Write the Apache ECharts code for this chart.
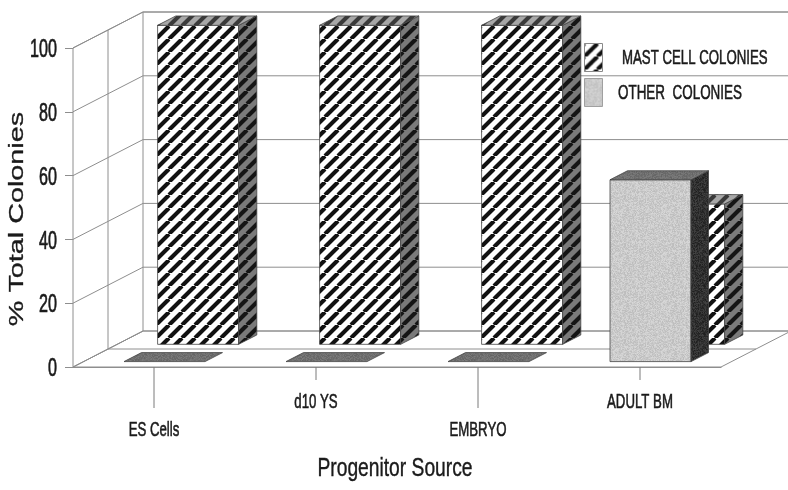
<!DOCTYPE html>
<html>
<head>
<meta charset="utf-8">
<script src="https://cdn.jsdelivr.net/npm/echarts@6/dist/echarts.min.js"></script>
<style>
  html, body { margin: 0; padding: 0; background: #ffffff; }
  #chart { width: 788px; height: 490px; }
</style>
</head>
<body>
<div id="chart"></div>
<script>
// ---- data ----
const categories = ['ES Cells', 'd10 YS', 'EMBRYO', 'ADULT BM'];
const mastCellColonies = [100, 100, 100, 44];
const otherColonies = [0, 0, 0, 57];
const seriesNames = ['MAST CELL COLONIES', 'OTHER  COLONIES'];
const yTicks = [0, 20, 40, 60, 80, 100];
const yAxisTitle = '% Total Colonies';
const xAxisTitle = 'Progenitor Source';

// ---- pseudo-3D projection and styling ----
const DEPTH_X = 70, DEPTH_Y = -36;      // shift from the front plane to the back wall
const BAR_RATIO = 0.5;                   // bar width as a share of the category band
const ROWS = { other: [0.15, 0.40], mast: [0.63, 0.89] };  // depth slots of the two series
const GRID = '#8e8e8e';
const FONT = "'Liberation Sans', Arial, sans-serif";
const INK = '#1a1a1a';

function hatchTile(bg, fg, period, lw) {
  const c = document.createElement('canvas');
  c.width = c.height = period;
  const g = c.getContext('2d');
  g.fillStyle = bg;
  g.fillRect(0, 0, period, period);
  g.strokeStyle = fg;
  g.lineWidth = lw;
  g.beginPath();
  for (let k = -1; k <= 1; k++) {
    g.moveTo(k * period, period);
    g.lineTo(k * period + period, 0);
  }
  g.stroke();
  return { image: c, repeat: 'repeat' };
}

function speckleTile(base, amp, size) {
  const c = document.createElement('canvas');
  c.width = c.height = size;
  const g = c.getContext('2d');
  const img = g.createImageData(size, size);
  let s = 12345;
  for (let p = 0; p < size * size; p++) {
    s = (s * 1103515245 + 12345) & 0x7fffffff;   // fixed-seed texture grain
    const v = Math.max(0, Math.min(255, base + ((s >> 8) % (2 * amp + 1)) - amp));
    img.data[p * 4] = img.data[p * 4 + 1] = img.data[p * 4 + 2] = v;
    img.data[p * 4 + 3] = 255;
  }
  g.putImageData(img, 0, 0);
  return { image: c, repeat: 'repeat' };
}

const FILLS = {
  mast: {
    front: hatchTile('#ffffff', '#111111', 13, 4.1),
    side: hatchTile('#7a7a7a', '#151515', 13, 4.1),
    top: hatchTile('#a8a8a8', '#3a3a3a', 13, 4.1),
    stroke: '#444'
  },
  other: {
    front: speckleTile(202, 14, 48),
    side: speckleTile(48, 18, 48),
    top: speckleTile(112, 12, 48),
    stroke: '#444'
  }
};

function seg(x1, y1, x2, y2, color, w) {
  return { type: 'line', shape: { x1, y1, x2, y2 }, style: { stroke: color || GRID, lineWidth: w || 1 } };
}

function textStyle(text, size, align, vAlign, weight) {
  return {
    text, fontSize: size, fontFamily: FONT, fill: INK,
    stroke: INK, lineWidth: weight || 0,
    align, textAlign: align, verticalAlign: vAlign, textVerticalAlign: vAlign
  };
}

function textEl(x, y, text, size, align, vAlign, scaleX, rotation, weight) {
  return {
    type: 'text', x, y, scaleX: scaleX || 1, rotation: rotation || 0,
    style: textStyle(text, size, align, vAlign, weight)
  };
}

// walls and floor of the box
function renderFrame(params, api) {
  const cs = params.coordSys;
  const L = cs.x, R = cs.x + cs.width, T = cs.y, B = cs.y + cs.height;
  const dx = DEPTH_X, dy = DEPTH_Y;
  return {
    type: 'group',
    children: [
      { type: 'polygon', shape: { points: [[L, B], [R, B], [R + dx, B + dy], [L + dx, B + dy]] },
        style: { fill: '#ffffff', stroke: GRID, lineWidth: 1 } },
      { type: 'polygon', shape: { points: [[L, B], [L, T], [L + dx, T + dy], [L + dx, B + dy]] },
        style: { fill: '#ffffff', stroke: GRID, lineWidth: 1 } },
      seg(L + dx, T + dy, R + dx, T + dy),
      seg(R + dx, T + dy, R + dx, B + dy),
      seg(L + dx / 2, T + dy / 2, L + dx / 2, B + dy / 2),
      seg(L + dx / 2, B + dy / 2, R + dx / 2, B + dy / 2)
    ]
  };
}

// one gridline per tick: across the left wall and along the back wall
function renderGridLine(params, api) {
  const cs = params.coordSys;
  const L = cs.x, R = cs.x + cs.width;
  const y = api.coord([0, api.value(1)])[1];
  return {
    type: 'group',
    children: [
      seg(L, y, L + DEPTH_X, y + DEPTH_Y),
      seg(L + DEPTH_X, y + DEPTH_Y, R + DEPTH_X, y + DEPTH_Y)
    ]
  };
}

function makeBarRenderer(rowKey) {
  const [d0, d1] = ROWS[rowKey];
  const fills = FILLS[rowKey];
  return function (params, api) {
    const i = api.value(0), v = api.value(1);
    const base = api.coord([i, 0]);
    const top = api.coord([i, v]);
    const w = api.size([1, 0])[0] * BAR_RATIO;
    const xl = base[0] - w / 2 + DEPTH_X * d0, xr = xl + w;
    const yb = base[1] + DEPTH_Y * d0, yt = top[1] + DEPTH_Y * d0;
    const sx = DEPTH_X * (d1 - d0), sy = DEPTH_Y * (d1 - d0);
    const children = [];
    if (yb - yt > 0.5) {
      children.push({ type: 'rect', shape: { x: xl, y: yt, width: w, height: yb - yt },
        style: { fill: fills.front, stroke: fills.stroke, lineWidth: 0.8 } });
      children.push({ type: 'polygon', shape: { points: [[xr, yt], [xr + sx, yt + sy], [xr + sx, yb + sy], [xr, yb]] },
        style: { fill: fills.side, stroke: fills.stroke, lineWidth: 0.8 } });
    }
    children.push({ type: 'polygon', shape: { points: [[xl, yt], [xr, yt], [xr + sx, yt + sy], [xl + sx, yt + sy]] },
      style: { fill: fills.top, stroke: fills.stroke, lineWidth: 0.8 } });
    return { type: 'group', children };
  };
}

// value labels on the front-left axis
function renderYLabel(params, api) {
  const cs = params.coordSys;
  const v = api.value(1);
  const y = api.coord([0, v])[1];
  return textEl(cs.x - 16, y + 2, String(v), 26, 'right', 'middle', 0.62, 0, 0.7);
}

// category ticks and staggered labels under the floor
function renderCategory(params, api) {
  const i = api.value(0);
  const p = api.coord([i, 0]);
  const long = i % 2 === 0;
  const tickEnd = long ? p[1] + 41 : p[1] + 13;
  const labelY = long ? p[1] + 63 : p[1] + 35;
  return {
    type: 'group',
    children: [
      seg(p[0], p[1], p[0], tickEnd, '#7a7a7a', 1),
      textEl(p[0], labelY, categories[i], 21, 'center', 'middle', 0.63, 0, 0.6)
    ]
  };
}

const chart = echarts.init(document.getElementById('chart'), null, { renderer: 'canvas' });

const legendSwatchW = 18;
chart.setOption({
  animation: false,
  backgroundColor: '#ffffff',
  grid: { left: 73, right: 67, top: 48, bottom: 123, containLabel: false },
  xAxis: {
    type: 'category',
    data: categories,
    axisLine: { show: true, lineStyle: { color: GRID, width: 1 } },
    axisTick: { show: false },
    axisLabel: { show: false },
    splitLine: { show: false }
  },
  yAxis: {
    type: 'value',
    min: 0, max: 100, interval: 20,
    axisLine: { show: true, lineStyle: { color: GRID, width: 1 } },
    axisTick: { show: true, length: 8, lineStyle: { color: GRID } },
    axisLabel: { show: false },
    splitLine: { show: false }
  },
  series: [
    { type: 'custom', name: 'frame', z: 1, clip: false, silent: true,
      data: [[0, 0]], renderItem: renderFrame },
    { type: 'custom', name: 'gridlines', z: 2, clip: false, silent: true,
      data: yTicks.map(v => [0, v]), renderItem: renderGridLine },
    { type: 'custom', name: seriesNames[0], z: 3, clip: false,
      data: categories.map((c, i) => [i, mastCellColonies[i]]), renderItem: makeBarRenderer('mast') },
    { type: 'custom', name: seriesNames[1], z: 4, clip: false,
      data: categories.map((c, i) => [i, otherColonies[i]]), renderItem: makeBarRenderer('other') },
    { type: 'custom', name: 'yLabels', z: 5, clip: false, silent: true,
      data: yTicks.map(v => [0, v]), renderItem: renderYLabel },
    { type: 'custom', name: 'categoryLabels', z: 5, clip: false, silent: true,
      data: categories.map((c, i) => [i, 0]), renderItem: renderCategory }
  ],
  graphic: [
    {
      type: 'rect', left: 584, top: 43, z: 10,
      shape: { width: legendSwatchW, height: 28 },
      style: { fill: hatchTile('#ffffff', '#111111', 13, 4.1), stroke: '#8a8a8a', lineWidth: 1 }
    },
    {
      type: 'text', x: 622, y: 58, z: 10, scaleX: 0.63,
      style: textStyle(seriesNames[0], 21, 'left', 'middle', 0.6)
    },
    {
      type: 'rect', left: 584, top: 78, z: 10,
      shape: { width: legendSwatchW, height: 28 },
      style: { fill: speckleTile(202, 14, 48), stroke: '#a0a0a0', lineWidth: 1 }
    },
    {
      type: 'text', x: 618, y: 93, z: 10, scaleX: 0.64,
      style: textStyle(seriesNames[1], 21, 'left', 'middle', 0.6)
    },
    {
      type: 'text', x: 17, y: 219, z: 10, rotation: Math.PI / 2, scaleX: 1.37,
      style: textStyle(yAxisTitle, 21, 'center', 'middle', 0.3)
    },
    {
      type: 'text', x: 395, y: 469, z: 10, scaleX: 0.74,
      style: textStyle(xAxisTitle, 26, 'center', 'middle', 0.4)
    }
  ]
});
</script>
</body>
</html>
